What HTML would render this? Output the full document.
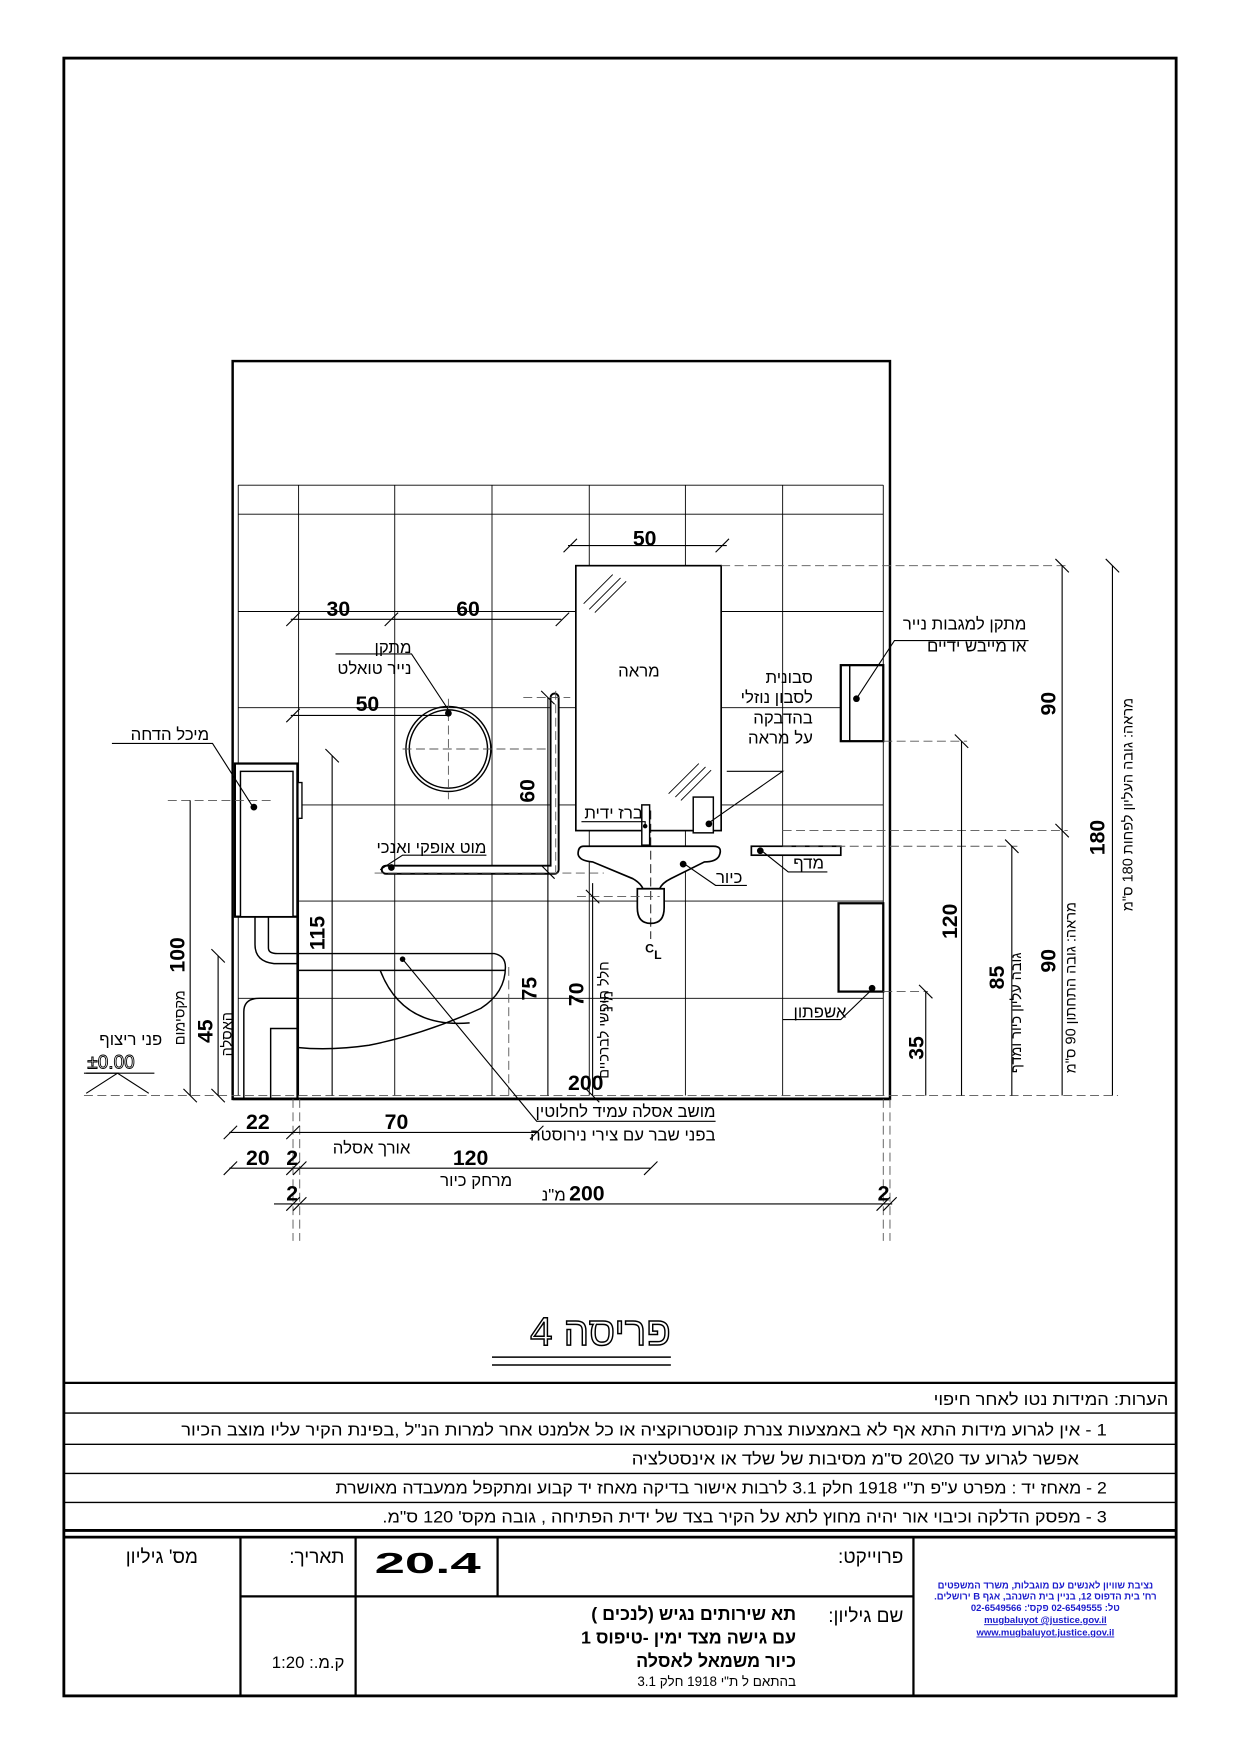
<!DOCTYPE html>
<html><head><meta charset="utf-8"><style>
html,body{margin:0;padding:0;background:#fff}
svg{display:block}
text{font-family:"Liberation Sans","DejaVu Sans",sans-serif}
.he{direction:rtl;unicode-bidi:embed}
.n{font-weight:bold;font-size:19px}
.l{font-size:15px}
</style></head><body>
<svg width="1240" height="1754" viewBox="0 0 1109 1569" xmlns="http://www.w3.org/2000/svg">
<rect x="0" y="0" width="1109" height="1569" fill="#fff"/>
<rect x="57" y="52" width="995" height="1465" fill="none" stroke="#000" stroke-width="2.2"/>

<g stroke="#000" stroke-width="0.8" fill="none">
<line x1="213" y1="434" x2="790" y2="434"/>
<line x1="213" y1="460" x2="790" y2="460"/>
<line x1="213" y1="547" x2="790" y2="547"/>
<line x1="213" y1="633" x2="790" y2="633"/>
<line x1="213" y1="720" x2="790" y2="720"/>
<line x1="213" y1="806" x2="790" y2="806"/>
<line x1="213" y1="893" x2="790" y2="893"/>
<line x1="267" y1="434" x2="267" y2="980"/>
<line x1="353" y1="434" x2="353" y2="980"/>
<line x1="440" y1="434" x2="440" y2="980"/>
<line x1="527" y1="434" x2="527" y2="980"/>
<line x1="613" y1="434" x2="613" y2="980"/>
<line x1="700" y1="434" x2="700" y2="980"/>
<line x1="213" y1="434" x2="213" y2="980"/>
<line x1="790" y1="434" x2="790" y2="980"/>
</g>
<rect x="208" y="323" width="588" height="660" fill="none" stroke="#000" stroke-width="2.2"/>
<line x1="208" y1="983" x2="796" y2="983" stroke="#000" stroke-width="2.5"/>

<g stroke="#000" fill="none">
<rect x="515" y="506" width="130" height="237" stroke-width="1.5" fill="#fff"/>
<line x1="522" y1="540" x2="548" y2="514" stroke-width="0.8"/>
<line x1="527" y1="545" x2="555" y2="517" stroke-width="0.8"/>
<line x1="532" y1="548" x2="560" y2="520" stroke-width="0.8"/>
<line x1="598" y1="710" x2="625" y2="683" stroke-width="0.8"/>
<line x1="604" y1="713" x2="631" y2="686" stroke-width="0.8"/>
<line x1="609" y1="716" x2="636" y2="689" stroke-width="0.8"/>
<rect x="620" y="713" width="18" height="32" stroke-width="1.3" fill="#fff"/>
<rect x="574" y="720" width="7" height="36" stroke-width="1.3" fill="#fff"/>
<path d="M522 757 H638 Q647 757 643 766 Q640 771 630 771 L600 786 Q592 790 590 795 H575 Q573 790 566 786 L530 771 Q518 770 517 764 Q517 757 522 757 Z" stroke-width="1.5" fill="#fff"/>
<path d="M570 795 V812 Q570 826 582 826 Q594 826 594 812 V795 Z" stroke-width="1.5" fill="#fff"/>
<line x1="582" y1="725" x2="582" y2="840" stroke-width="0.8" stroke-dasharray="8 4"/>
</g>
<text x="577" y="852" font-size="11" font-weight="bold">C</text><text x="585" y="858" font-size="11" font-weight="bold">L</text>

<g stroke="#000" fill="#fff">
<rect x="752" y="595" width="38" height="68" stroke-width="2"/>
<line x1="760" y1="595" x2="760" y2="663" stroke-width="1.3"/>
<rect x="672" y="757" width="80" height="8" stroke-width="1.5"/>
<rect x="750" y="808" width="40" height="79" stroke-width="2"/>
</g>

<circle cx="401" cy="670" r="38" fill="none" stroke="#000" stroke-width="1.3"/>
<circle cx="401" cy="670" r="35" fill="none" stroke="#000" stroke-width="1.3"/>
<g stroke="#555" stroke-width="0.8" stroke-dasharray="8 4">
<line x1="360" y1="670" x2="495" y2="670"/>
<line x1="401" y1="625" x2="401" y2="715"/>
</g>

<path d="M345 778 H496 V624" fill="none" stroke="#000" stroke-width="9" stroke-linecap="round" stroke-linejoin="round"/>
<path d="M345 778 H496 V624" fill="none" stroke="#fff" stroke-width="5.5" stroke-linecap="round" stroke-linejoin="round"/>
<g stroke="#555" stroke-width="0.8" stroke-dasharray="8 4">
<line x1="335" y1="781" x2="540" y2="781"/>
<line x1="468" y1="624" x2="510" y2="624"/>
<line x1="497" y1="618" x2="497" y2="780"/>
</g>

<g stroke="#000" fill="#fff">
<rect x="210" y="683" width="56" height="137" stroke-width="2"/>
<rect x="215" y="690" width="47" height="130" stroke-width="1.3"/>
<rect x="266" y="700" width="4" height="32" stroke-width="1.2"/>
</g>
<g stroke="#000" fill="none" stroke-width="1.3">
<path d="M228 820 V845 Q228 860 245 862 H266"/>
<path d="M240 820 V848 Q240 853 248 853 H266"/>
<path d="M218 983 V905 Q218 893 232 893 H266"/>
<path d="M242 983 V920 H266"/>
<line x1="266" y1="683" x2="266" y2="983" stroke-width="2"/>
<path d="M266 853 H442 Q452 855 452 865 Q452 888 430 902 Q380 925 330 935 Q295 940 266 937"/>
<line x1="266" y1="868" x2="452" y2="868"/>
<path d="M340 868 Q360 920 420 915"/>
</g>
<g stroke="#555" stroke-width="0.8" stroke-dasharray="8 4" fill="none">
<line x1="150" y1="716" x2="245" y2="716"/>
<line x1="455" y1="865" x2="455" y2="980"/>
<line x1="75" y1="980" x2="1000" y2="980"/>
<line x1="645" y1="506" x2="955" y2="506"/>
<line x1="790" y1="663" x2="865" y2="663"/>
<line x1="700" y1="743" x2="955" y2="743"/>
<line x1="700" y1="757" x2="910" y2="757"/>
<line x1="790" y1="887" x2="830" y2="887"/>
<line x1="516" y1="802" x2="590" y2="802"/>
<line x1="262" y1="983" x2="262" y2="1110"/>
<line x1="268" y1="983" x2="268" y2="1110"/>
<line x1="790" y1="983" x2="790" y2="1110"/>
<line x1="796" y1="983" x2="796" y2="1110"/>
</g>

<g stroke="#000" stroke-width="1" fill="none">
<line x1="508" y1="488" x2="650" y2="488"/><line x1="504" y1="494" x2="516" y2="482"/><line x1="640" y1="494" x2="652" y2="482"/>
<line x1="260" y1="554" x2="502" y2="554"/><line x1="256" y1="560" x2="268" y2="548"/><line x1="344" y1="560" x2="356" y2="548"/><line x1="497" y1="560" x2="509" y2="548"/>
<line x1="260" y1="640" x2="400" y2="640"/><line x1="256" y1="646" x2="268" y2="634"/>
<line x1="490" y1="624" x2="490" y2="980"/><line x1="484" y1="618" x2="496" y2="630"/><line x1="484" y1="774" x2="496" y2="786"/>
<line x1="297" y1="676" x2="297" y2="980"/><line x1="291" y1="670" x2="303" y2="682"/>
<line x1="170" y1="716" x2="170" y2="980"/><line x1="164" y1="974" x2="176" y2="986"/>
<line x1="195" y1="855" x2="195" y2="980"/><line x1="189" y1="849" x2="201" y2="861"/><line x1="189" y1="974" x2="201" y2="986"/>
<line x1="530" y1="790" x2="530" y2="980"/><line x1="524" y1="796" x2="536" y2="808"/><line x1="524" y1="974" x2="536" y2="986"/>
<line x1="950" y1="506" x2="950" y2="980"/><line x1="944" y1="500" x2="956" y2="512"/><line x1="944" y1="737" x2="956" y2="749"/>
<line x1="995" y1="506" x2="995" y2="980"/><line x1="989" y1="500" x2="1001" y2="512"/>
<line x1="860" y1="663" x2="860" y2="980"/><line x1="854" y1="657" x2="866" y2="669"/>
<line x1="905" y1="757" x2="905" y2="980"/><line x1="899" y1="751" x2="911" y2="763"/>
<line x1="828" y1="887" x2="828" y2="980"/><line x1="822" y1="881" x2="834" y2="893"/>
<line x1="205" y1="1013" x2="480" y2="1013"/><line x1="200" y1="1019" x2="212" y2="1007"/><line x1="256" y1="1019" x2="268" y2="1007"/><line x1="474" y1="1019" x2="486" y2="1007"/>
<line x1="205" y1="1045" x2="582" y2="1045"/><line x1="200" y1="1051" x2="212" y2="1039"/><line x1="256" y1="1051" x2="268" y2="1039"/><line x1="262" y1="1051" x2="274" y2="1039"/><line x1="576" y1="1051" x2="588" y2="1039"/>
<line x1="245" y1="1077" x2="798" y2="1077"/><line x1="256" y1="1083" x2="268" y2="1071"/><line x1="262" y1="1083" x2="274" y2="1071"/><line x1="784" y1="1083" x2="796" y2="1071"/><line x1="790" y1="1083" x2="802" y2="1071"/>
<polyline points="100,665 190,665 225,720"/>
<polyline points="300,585 368,585 401,635"/>
<polyline points="340,778 360,765 435,765"/>
<polyline points="520,735 577,735 577,740"/>
<polyline points="634,736 700,690 650,690"/>
<polyline points="611,772 640,792 668,792"/>
<polyline points="680,760 705,780 740,780"/>
<polyline points="766,625 800,573 920,573"/>
<polyline points="780,885 752,912 700,912"/>
<polyline points="360,858 480,1003 640,1003"/>
<polyline points="77,978 105,960 77,960"/>
<polyline points="133,978 105,960"/>
<line x1="75" y1="960" x2="138" y2="960"/>
</g>
<g fill="#000">
<circle cx="227" cy="722" r="3"/><circle cx="401" cy="638" r="3"/><circle cx="350" cy="776" r="3"/>
<circle cx="634" cy="737" r="3"/><circle cx="611" cy="773" r="3"/><circle cx="680" cy="761" r="3"/>
<circle cx="766" cy="625" r="3"/><circle cx="780" cy="884" r="3"/><circle cx="360" cy="858" r="2.5"/>
<circle cx="577" cy="739" r="2"/>
</g>

<g class="n">
<text x="566" y="488">50</text>
<text x="292" y="551">30</text>
<text x="408" y="551">60</text>
<text x="318" y="636">50</text>
<text x="220" y="1010">22</text>
<text x="344" y="1010">70</text>
<text x="220" y="1042">20</text>
<text x="256" y="1042">2</text>
<text x="405" y="1042">120</text>
<text x="256" y="1074">2</text>
<text x="509" y="1074">200</text>
<text x="785" y="1074">2</text>
<text x="508" y="975">200</text>
<g transform="translate(478,718) rotate(-90)"><text x="0" y="0">60</text></g>
<g transform="translate(290,850) rotate(-90)"><text x="0" y="0">115</text></g>
<g transform="translate(165,870) rotate(-90)"><text x="0" y="0">100</text></g>
<g transform="translate(190,933) rotate(-90)"><text x="0" y="0">45</text></g>
<g transform="translate(480,895) rotate(-90)"><text x="0" y="0">75</text></g>
<g transform="translate(522,900) rotate(-90)"><text x="0" y="0">70</text></g>
<g transform="translate(944,640) rotate(-90)"><text x="0" y="0">90</text></g>
<g transform="translate(944,870) rotate(-90)"><text x="0" y="0">90</text></g>
<g transform="translate(988,765) rotate(-90)"><text x="0" y="0">180</text></g>
<g transform="translate(856,840) rotate(-90)"><text x="0" y="0">120</text></g>
<g transform="translate(898,885) rotate(-90)"><text x="0" y="0">85</text></g>
<g transform="translate(826,948) rotate(-90)"><text x="0" y="0">35</text></g>
</g>

<g class="l">
<text class="he" x="187" y="662">מיכל הדחה</text>
<text class="he" x="368" y="584">מתקן</text>
<text class="he" x="368" y="603">נייר טואלט</text>
<text class="he" x="590" y="605">מראה</text>
<text class="he" x="727" y="611">סבונית</text>
<text class="he" x="727" y="629">לסבון נוזלי</text>
<text class="he" x="727" y="647">בהדבקה</text>
<text class="he" x="727" y="665">על מראה</text>
<text class="he" x="918" y="563">מתקן למגבות נייר</text>
<text class="he" x="918" y="583">או מייבש ידיים</text>
<text class="he" x="575" y="732">ברז ידית</text>
<text class="he" x="435" y="763">מוט אופקי ואנכי</text>
<text class="he" x="664" y="790">כיור</text>
<text class="he" x="737" y="777">מדף</text>
<text class="he" x="757" y="910">אשפתון</text>
<text class="he" x="640" y="999">מושב אסלה עמיד לחלוטין</text>
<text class="he" x="640" y="1020">בפני שבר עם צירי נירוסטה</text>
<text class="he" x="367" y="1032">אורך אסלה</text>
<text class="he" x="458" y="1061">מרחק כיור</text>
<text class="he" x="506" y="1074">מ"נ</text>
<text class="he" x="145" y="935">פני ריצוף</text>
<text x="78" y="956" font-size="17" style="fill:none;stroke:#000;stroke-width:0.8">±0.00</text>
<g transform="translate(165,935) rotate(-90)"><text class="he" text-anchor="end" x="0" y="0" font-size="13">מקסימום</text></g>
<g transform="translate(207,945) rotate(-90)"><text class="he" text-anchor="end" x="0" y="0" font-size="13">האסלה</text></g>
<g transform="translate(548,905) rotate(-90)"><text class="he" text-anchor="end" x="0" y="0" font-size="13">מ"נ</text></g>
<g transform="translate(544,965) rotate(-90)"><text class="he" text-anchor="end" x="0" y="0" font-size="13">חלל חופשי לברכיים</text></g>
<g transform="translate(1013,815) rotate(-90)"><text class="he" text-anchor="end" x="0" y="0" font-size="13">מראה: גובה העליון לפחות 180 ס"מ</text></g>
<g transform="translate(962,960) rotate(-90)"><text class="he" text-anchor="end" x="0" y="0" font-size="13">מראה: גובה התחתון 90 ס"מ</text></g>
<g transform="translate(913,960) rotate(-90)"><text class="he" text-anchor="end" x="0" y="0" font-size="13">גובה עליון כיור ומדף</text></g>
</g>

<text class="he" x="600" y="1203" font-size="36" style="fill:#fff;stroke:#000;stroke-width:1.3">פריסה 4</text>
<line x1="440" y1="1214" x2="600" y2="1214" stroke="#000" stroke-width="1.3"/>
<line x1="440" y1="1221" x2="600" y2="1221" stroke="#000" stroke-width="1.3"/>

<g stroke="#000" fill="none">
<line x1="57" y1="1237" x2="1052" y2="1237" stroke-width="2"/>
<line x1="57" y1="1264" x2="1052" y2="1264" stroke-width="1.2"/>
<line x1="57" y1="1292" x2="1052" y2="1292" stroke-width="1.2"/>
<line x1="57" y1="1318" x2="1052" y2="1318" stroke-width="1.2"/>
<line x1="57" y1="1344" x2="1052" y2="1344" stroke-width="1.2"/>
<line x1="57" y1="1369" x2="1052" y2="1369" stroke-width="2.5"/>
<line x1="57" y1="1375" x2="1052" y2="1375" stroke-width="2.5"/>
<line x1="215" y1="1375" x2="215" y2="1517" stroke-width="2"/>
<line x1="318" y1="1375" x2="318" y2="1517" stroke-width="2"/>
<line x1="445" y1="1375" x2="445" y2="1428" stroke-width="2"/>
<line x1="817" y1="1375" x2="817" y2="1517" stroke-width="2"/>
<line x1="215" y1="1428" x2="817" y2="1428" stroke-width="2"/>
</g>
<g font-size="15">
<text class="he" x="1045" y="1257" textLength="210" lengthAdjust="spacingAndGlyphs">הערות:  המידות נטו לאחר חיפוי</text>
<text class="he" x="990" y="1284" textLength="828" lengthAdjust="spacingAndGlyphs">1 - אין לגרוע מידות התא אף לא באמצעות צנרת קונסטרוקציה או כל אלמנט אחר למרות הנ"ל ,בפינת הקיר עליו מוצב הכיור</text>
<text class="he" x="965" y="1310" textLength="400" lengthAdjust="spacingAndGlyphs">אפשר לגרוע עד 20\20 ס"מ מסיבות של שלד או אינסטלציה</text>
<text class="he" x="990" y="1336" textLength="690" lengthAdjust="spacingAndGlyphs">2 - מאחז יד : מפרט ע"פ ת"י 1918 חלק 3.1 לרבות אישור בדיקה מאחז יד קבוע ומתקפל ממעבדה מאושרת</text>
<text class="he" x="990" y="1362" textLength="648" lengthAdjust="spacingAndGlyphs">3 - מפסק הדלקה וכיבוי אור יהיה מחוץ לתא על הקיר בצד של ידית הפתיחה , גובה מקס' 120 ס"מ.</text>
</g>

<g font-size="17">
<text class="he" x="177" y="1398">מס' גיליון</text>
<text class="he" x="308" y="1398">תאריך:</text>
<text x="335" y="1407" font-size="26" font-weight="bold" textLength="95" lengthAdjust="spacingAndGlyphs">20.4</text>
<text class="he" x="808" y="1398">פרוייקט:</text>
<text class="he" x="808" y="1451">שם גיליון:</text>
<text class="he" x="308" y="1492" font-size="15">ק.מ.: 1:20</text>
</g>
<g font-size="16" font-weight="bold">
<text class="he" x="712" y="1449">תא שירותים נגיש (לנכים )</text>
<text class="he" x="712" y="1470">עם גישה מצד ימין -טיפוס 1</text>
<text class="he" x="712" y="1491">כיור משמאל לאסלה</text>
</g>
<text class="he" x="712" y="1508" font-size="12">בהתאם ל ת"י 1918 חלק 3.1</text>
<g font-size="8.5" font-weight="bold" text-anchor="middle" style="fill:#1a1acc">
<text class="he" x="935" y="1421" style="fill:#1a1acc">נציבת שוויון לאנשים עם מוגבלות, משרד המשפטים</text>
<text class="he" x="935" y="1431" style="fill:#1a1acc">רח' בית הדפוס 12, בניין בית השנהב, אגף B ירושלים.</text>
<text class="he" x="935" y="1441" style="fill:#1a1acc">טל: 02-6549555  פקס': 02-6549566</text>
<text x="935" y="1452" style="fill:#1a1acc" text-decoration="underline">mugbaluyot @justice.gov.il</text>
<text x="935" y="1463" style="fill:#1a1acc" text-decoration="underline">www.mugbaluyot.justice.gov.il</text>
</g>
<rect x="57" y="52" width="995" height="1465" fill="none" stroke="#000" stroke-width="2.5"/>
</svg>
</body></html>
